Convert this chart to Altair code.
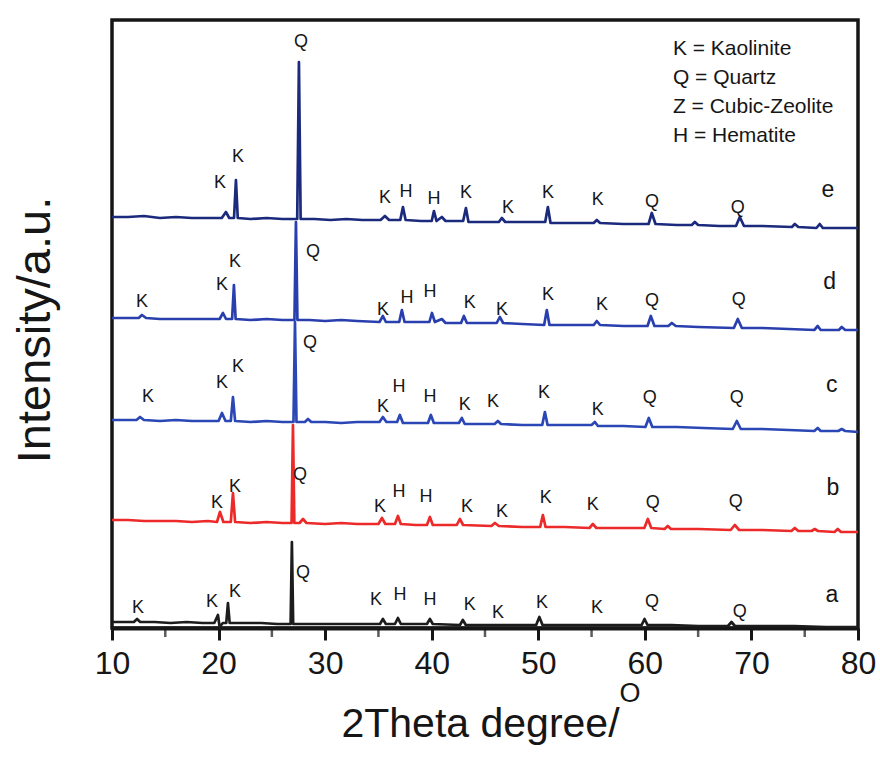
import altair as alt
import pandas as pd

# ---- traces: (2theta, intensity) ----
trace_e = [(10.0, 411), (11.5, 411), (13.0, 412), (14.5, 410), (16.0, 411), (17.5, 410), (19.0, 410),
           (20.3, 410), (20.69, 416), (21.0, 410), (21.45, 410), (21.63, 448), (21.8, 410), (23.0, 409),
           (24.5, 410), (26.0, 409), (27.38, 409), (27.54, 566), (27.70, 409), (29.0, 409), (30.5, 408),
           (32.0, 409), (33.5, 408), (35.2, 408), (35.61, 412), (36.0, 408), (37.05, 408), (37.30, 421),
           (37.55, 408), (39.0, 407), (40.0, 407), (40.21, 417), (40.45, 407), (40.95, 411), (41.3, 407),
           (42.95, 407), (43.21, 420), (43.45, 406), (45.0, 406), (46.3, 406), (46.58, 410), (46.9, 406),
           (48.5, 406), (50.65, 406), (50.90, 421), (51.15, 405), (53.0, 405), (55.2, 405), (55.49, 408),
           (55.8, 405), (58.0, 404), (60.35, 404), (60.65, 415), (61.0, 404), (63.0, 403), (64.4, 403),
           (64.69, 406), (65.0, 403), (67.0, 402), (68.55, 402), (68.91, 411), (69.3, 402), (71.0, 402),
           (73.8, 401), (74.07, 404), (74.4, 401), (76.1, 400), (76.41, 404), (76.7, 400), (78.5, 400),
           (80.0, 400)]
trace_d = [(10.0, 310), (11.5, 310), (12.5, 310), (12.81, 313), (13.2, 310), (14.5, 309), (16.0, 309),
           (17.5, 309), (19.0, 309), (20.1, 309), (20.41, 315), (20.7, 309), (21.27, 309), (21.44, 343),
           (21.6, 309), (23.0, 308), (24.5, 309), (26.0, 308), (27.12, 308), (27.26, 406), (27.40, 308),
           (28.5, 308), (30.0, 307), (31.5, 308), (33.0, 307), (35.1, 306), (35.42, 312), (35.7, 306),
           (36.95, 306), (37.20, 318), (37.45, 306), (39.0, 306), (39.78, 306), (40.02, 315), (40.3, 306),
           (40.95, 309), (41.3, 305), (42.75, 305), (43.02, 312), (43.3, 305), (45.0, 305), (46.1, 305),
           (46.39, 311), (46.7, 305), (48.5, 304), (50.55, 303), (50.80, 318), (51.05, 303), (53.0, 303),
           (55.2, 303), (55.49, 307), (55.8, 303), (58.0, 302), (60.25, 302), (60.56, 312), (60.9, 302),
           (62.2, 302), (62.53, 305), (62.9, 302), (65.0, 301), (68.35, 300), (68.72, 309), (69.1, 300),
           (71.0, 300), (73.5, 299), (75.9, 298), (76.22, 302), (76.5, 298), (78.2, 298), (78.47, 301),
           (78.8, 298), (80.0, 298)]
trace_c = [(10.0, 208), (11.5, 208), (12.3, 208), (12.63, 211), (13.0, 208), (14.5, 207), (16.0, 208),
           (17.5, 207), (19.0, 207), (20.0, 207), (20.32, 215), (20.65, 207), (21.15, 207), (21.35, 231),
           (21.55, 207), (23.0, 206), (24.5, 207), (26.0, 206), (27.03, 206), (27.17, 306), (27.31, 206),
           (28.1, 206), (28.39, 209), (28.7, 206), (30.0, 206), (31.5, 205), (33.0, 206), (35.1, 206),
           (35.42, 211), (35.75, 206), (36.75, 206), (37.01, 213), (37.3, 205), (39.0, 205), (39.65, 205),
           (39.92, 213), (40.2, 205), (41.5, 205), (42.55, 205), (42.83, 210), (43.1, 204), (45.0, 204),
           (45.9, 204), (46.21, 207), (46.5, 204), (48.5, 203), (50.37, 203), (50.62, 216), (50.87, 203),
           (53.0, 203), (55.0, 203), (55.31, 206), (55.6, 202), (58.0, 202), (60.05, 201), (60.37, 210),
           (60.7, 201), (63.0, 201), (65.5, 200), (68.25, 199), (68.63, 207), (69.0, 199), (71.0, 199),
           (73.5, 198), (75.9, 197), (76.22, 200), (76.5, 197), (78.15, 197), (78.47, 199), (78.8, 197),
           (80.0, 196)]
trace_b = [(10.0, 108), (11.5, 108), (13.0, 107), (14.5, 107), (16.0, 107), (17.5, 106), (19.0, 107),
           (19.85, 106), (20.13, 116), (20.45, 106), (21.15, 106), (21.35, 135), (21.55, 106), (23.0, 105),
           (24.5, 106), (26.0, 105), (26.85, 105), (26.98, 203), (27.11, 105), (27.6, 105), (27.92, 109),
           (28.25, 105), (30.0, 104), (31.5, 105), (33.0, 104), (35.0, 104), (35.33, 110), (35.65, 104),
           (36.55, 104), (36.83, 112), (37.1, 104), (38.5, 103), (39.55, 103), (39.83, 111), (40.1, 103),
           (41.5, 103), (42.35, 103), (42.64, 109), (42.95, 103), (45.6, 102), (45.93, 105), (46.3, 102),
           (48.5, 101), (50.18, 101), (50.43, 113), (50.68, 101), (52.5, 101), (54.8, 100), (55.12, 104),
           (55.45, 100), (58.0, 100), (59.95, 100), (60.28, 109), (60.6, 100), (61.85, 99), (62.15, 102),
           (62.45, 99), (65.0, 99), (68.05, 98), (68.44, 103), (68.85, 98), (71.0, 98), (73.75, 97),
           (74.07, 100), (74.4, 97), (75.65, 97), (75.94, 99), (76.25, 97), (77.8, 96), (78.1, 99),
           (78.4, 96), (80.0, 96)]
trace_a = [(10.0, 6), (11.0, 6), (12.05, 6), (12.35, 9), (12.65, 6), (14.0, 6), (15.5, 5), (17.0, 6),
           (18.5, 5), (19.6, 5), (19.94, 13), (20.1, 1), (20.4, 5), (20.72, 5), (20.88, 25), (21.04, 5),
           (22.5, 5), (24.0, 5), (25.5, 4), (26.76, 4), (26.88, 86), (27.0, 4), (28.5, 4), (30.0, 4),
           (31.5, 4), (33.0, 4), (35.15, 4), (35.42, 9), (35.7, 4), (36.55, 4), (36.83, 10), (37.1, 4),
           (39.55, 4), (39.83, 9), (40.1, 4), (42.65, 3), (42.92, 8), (43.2, 3), (45.0, 3), (47.0, 3),
           (49.8, 3), (50.1, 11), (50.4, 3), (52.5, 3), (55.0, 3), (57.5, 3), (59.7, 3), (59.97, 9),
           (60.25, 3), (62.5, 3), (65.0, 2), (67.8, 2), (68.13, 6), (68.45, 2), (71.0, 2), (74.0, 2),
           (77.0, 1), (80.0, 1)]

samples = ["a", "b", "c", "d", "e"]
sample_colors = ["#1c1c1c", "#ec2a2a", "#2b47b5", "#2a3fae", "#1b2a7c"]
traces = {"a": trace_a, "b": trace_b, "c": trace_c, "d": trace_d, "e": trace_e}

# ---- peak labels: (2theta, intensity, letter) ----
labels_e = [(27.73, 586, "Q"), (21.82, 471, "K"), (20.13, 445, "K"), (35.61, 430, "K"), (37.58, 436, "H"),
            (40.21, 429, "H"), (43.21, 435, "K"), (47.15, 420, "K"), (50.90, 435, "K"), (55.59, 428, "K"),
            (60.66, 426, "Q"), (68.72, 420, "Q")]
labels_d = [(12.81, 326, "K"), (20.32, 343, "K"), (21.54, 366, "K"), (28.86, 376, "Q"), (35.42, 318, "K"),
            (37.67, 330, "H"), (39.83, 336, "H"), (43.58, 325, "K"), (46.59, 318, "K"), (50.90, 333, "K"),
            (55.97, 323, "K"), (60.66, 327, "Q"), (68.82, 328, "Q")]
labels_c = [(13.38, 231, "K"), (20.32, 245, "K"), (21.82, 261, "K"), (28.57, 285, "Q"), (35.42, 221, "K"),
            (36.92, 241, "H"), (39.83, 231, "H"), (43.11, 223, "K"), (45.74, 226, "K"), (50.53, 235, "K"),
            (55.59, 218, "K"), (60.47, 230, "Q"), (68.63, 230, "Q")]
labels_b = [(19.85, 125, "K"), (21.54, 141, "K"), (27.64, 153, "Q"), (35.14, 121, "K"), (36.92, 136, "H"),
            (39.46, 131, "H"), (43.30, 121, "K"), (46.59, 116, "K"), (50.71, 130, "K"), (55.12, 123, "K"),
            (60.75, 125, "Q"), (68.54, 126, "Q")]
labels_a = [(12.44, 20, "K"), (19.38, 26, "K"), (21.54, 36, "K"), (27.92, 55, "Q"), (34.77, 28, "K"),
            (37.02, 33, "H"), (39.83, 28, "H"), (43.58, 23, "K"), (46.21, 15, "K"), (50.34, 25, "K"),
            (55.50, 20, "K"), (60.66, 26, "Q"), (68.91, 16, "Q")]

sample_tag_x = [77.54, 77.64, 77.54, 77.35, 77.17]
sample_tag_y = [33, 140, 243, 346, 438]

legend_lines = ["K = Kaolinite", "Q = Quartz", "Z = Cubic-Zeolite", "H = Hematite"]
legend_x = 62.63
legend_y = [579, 550, 521, 492]

major_ticks = [10, 20, 30, 40, 50, 60, 70, 80]
minor_ticks = [15, 25, 35, 45, 55, 65, 75]

x_title = "2Theta degree/"
x_title_sup = "O"
y_title = "Intensity/a.u."

# ---- tables ----
rows = []
for s in samples:
    for i, (x, y) in enumerate(traces[s]):
        rows.append({"sample": s, "x": x, "y": y, "i": i})
df = pd.DataFrame(rows)

lab_rows = []
for lst in [labels_a, labels_b, labels_c, labels_d, labels_e]:
    for x, y, t in lst:
        lab_rows.append({"x": x, "y": y, "t": t})
df_lab = pd.DataFrame(lab_rows)
df_tag = pd.DataFrame({"x": sample_tag_x, "y": sample_tag_y, "t": samples})
df_leg = pd.DataFrame({"x": [legend_x] * 4, "y": legend_y, "t": legend_lines})
df_minor = pd.DataFrame({"x": minor_ticks})

FONT = "Liberation Sans"
INK = "#161616"
xscale = alt.Scale(domain=[10, 80], nice=False, zero=False)
yscale = alt.Scale(domain=[0, 608], nice=False, zero=False)

lines = alt.Chart(df).mark_line(strokeWidth=2.7, strokeJoin="round").encode(
    x=alt.X("x:Q", scale=xscale, axis=alt.Axis(
        values=major_ticks, labelFontSize=32, labelFont=FONT, labelColor=INK,
        ticks=True, tickSize=12, tickWidth=3, tickColor=INK,
        domainWidth=4, domainColor=INK,
        labelPadding=8, labelFlush=False, labelOverlap=False, grid=False,
        title=x_title, titleFont=FONT, titleFontSize=41, titleFontWeight="normal",
        titleColor=INK, titleX=368, titleY=108, titleAlign="center", titleBaseline="alphabetic")),
    y=alt.Y("y:Q", scale=yscale, axis=None),
    color=alt.Color("sample:N", scale=alt.Scale(domain=samples, range=sample_colors), legend=None),
    detail="sample:N",
    order="i:Q",
)

# minor ticks: short vertical strokes hanging below the axis line
minor = alt.Chart(df_minor).mark_tick(color=INK, thickness=2.5, size=9, orient="vertical",
                                      yOffset=4.5).encode(
    x=alt.X("x:Q", scale=xscale),
    y=alt.value(608),
)

peak_text = alt.Chart(df_lab).mark_text(font=FONT, fontSize=18, color=INK,
                                        align="center", baseline="middle").encode(
    x=alt.X("x:Q", scale=xscale),
    y=alt.Y("y:Q", scale=yscale),
    text="t:N",
)

tag_text = alt.Chart(df_tag).mark_text(font=FONT, fontSize=23, color=INK,
                                       align="center", baseline="middle").encode(
    x=alt.X("x:Q", scale=xscale),
    y=alt.Y("y:Q", scale=yscale),
    text="t:N",
)

legend_text = alt.Chart(df_leg).mark_text(font=FONT, fontSize=21, color=INK,
                                          align="left", baseline="middle").encode(
    x=alt.X("x:Q", scale=xscale),
    y=alt.Y("y:Q", scale=yscale),
    text="t:N",
)

degree_mark = alt.Chart(pd.DataFrame({"t": [x_title_sup]})).mark_text(
    font=FONT, fontSize=27, color=INK, align="center", baseline="middle").encode(
    x=alt.value(518), y=alt.value(674), text="t:N")

y_title_mark = alt.Chart(pd.DataFrame({"t": [y_title]})).mark_text(
    font=FONT, fontSize=47, color=INK, angle=270, align="center", baseline="middle").encode(
    x=alt.value(-76), y=alt.value(310), text="t:N")

chart = alt.layer(lines, minor, peak_text, tag_text, legend_text, degree_mark, y_title_mark).properties(
    width=746, height=608,
    autosize=alt.AutoSizeParams(type="none"),
    padding={"left": 112, "top": 20, "right": 22, "bottom": 130},
    background="white",
).configure_view(
    stroke=INK, strokeWidth=3.5
)

chart.save("out.html", embed_options={"renderer": "svg", "actions": False})
